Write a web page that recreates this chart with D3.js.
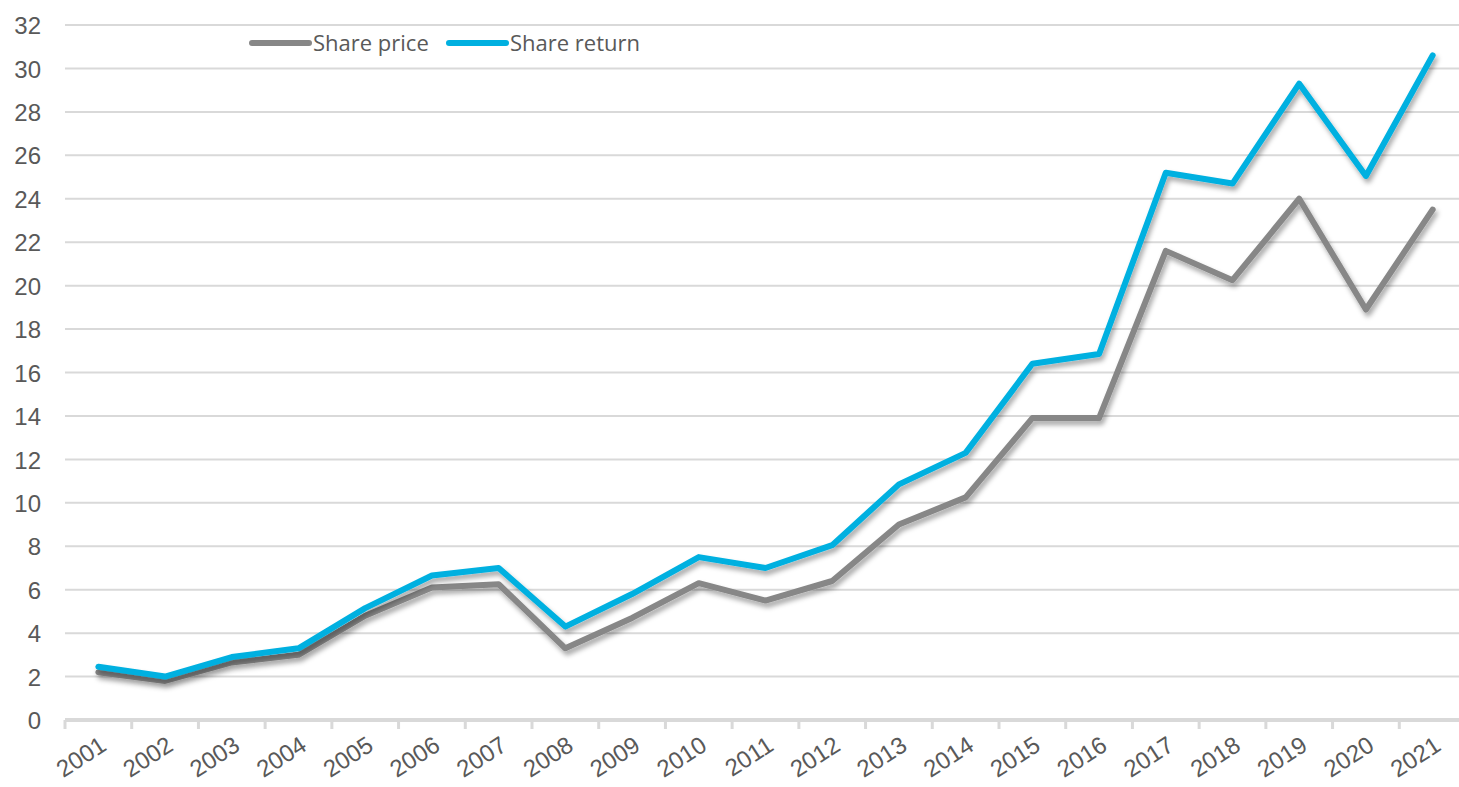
<!DOCTYPE html>
<html><head><meta charset="utf-8">
<script src="https://cdn.jsdelivr.net/npm/d3@7"></script>
<style>body{margin:0;background:#fff;}svg{display:block;}</style>
</head><body>
<svg id="c" width="1459" height="787"></svg>
<script>
const years = ["2001","2002","2003","2004","2005","2006","2007","2008","2009","2010","2011","2012","2013","2014","2015","2016","2017","2018","2019","2020","2021"];
const sharePrice = [2.2,1.8,2.65,3.0,4.8,6.1,6.25,3.3,4.7,6.3,5.5,6.4,9.0,10.25,13.9,13.9,21.6,20.25,24.0,18.9,23.5];
const shareReturn = [2.45,2.0,2.9,3.3,5.15,6.65,7.0,4.3,5.8,7.5,7.0,8.05,10.85,12.3,16.4,16.85,25.2,24.7,29.3,25.05,30.6];
const yTicks = [0,2,4,6,8,10,12,14,16,18,20,22,24,26,28,30,32];
const seriesNames = ["Share price","Share return"];
const seriesColors = ["#878787","#00b0e0"];

const svg = d3.select("#c");
const mLeft = 65, mRight = 1466, mTop = 25, mBottom = 720;
const x = d3.scaleBand().domain(years).range([mLeft, mRight]).padding(0);
const y = d3.scaleLinear().domain([0,32]).range([mBottom, mTop]);

const defs = svg.append("defs");
const f = defs.append("filter").attr("id","sh").attr("x","-10%").attr("y","-10%").attr("width","120%").attr("height","130%");
f.append("feDropShadow").attr("dx",2).attr("dy",4).attr("stdDeviation",2.5).attr("flood-color","#000").attr("flood-opacity",0.35);

// gridlines
svg.append("g").selectAll("line").data(yTicks.filter(d=>d>0)).join("line")
  .attr("x1",mLeft).attr("x2",mRight).attr("y1",d=>y(d)).attr("y2",d=>y(d))
  .attr("stroke","#d9d9d9").attr("stroke-width",2);

// y axis labels
const yAxis = d3.axisLeft(y).tickValues(yTicks).tickSize(0).tickPadding(0);
const ya = svg.append("g").attr("transform",`translate(41,0)`).call(yAxis);
ya.select(".domain").remove();
ya.selectAll("text").attr("font-family","'Liberation Sans', sans-serif").attr("font-size",24).attr("fill","#595959").attr("dy","0.36em");

// x axis
const xa = svg.append("g").attr("transform",`translate(0,${mBottom})`);
xa.append("line").attr("x1",mLeft).attr("x2",mRight).attr("stroke","#d9d9d9").attr("stroke-width",4);
xa.selectAll("line.tk").data(d3.range(years.length+1)).join("line").attr("class","tk")
  .attr("x1",i=>mLeft+i*x.bandwidth()).attr("x2",i=>mLeft+i*x.bandwidth()).attr("y1",0).attr("y2",9)
  .attr("stroke","#d9d9d9").attr("stroke-width",3);
xa.selectAll("text").data(years).join("text")
  .attr("transform",d=>`translate(${x(d)+x.bandwidth()/2+5},${22}) rotate(-33)`)
  .attr("text-anchor","end").attr("dy","0.36em")
  .attr("font-family","'Liberation Sans', sans-serif").attr("font-size",24).attr("fill","#595959")
  .text(d=>d);

// lines
const line = d3.line().x((d,i)=>x(years[i])+x.bandwidth()/2).y(d=>y(d));
[sharePrice, shareReturn].forEach((s,k)=>{
  svg.append("path").datum(s).attr("d",line).attr("fill","none")
    .attr("stroke",seriesColors[k]).attr("stroke-width",6).attr("stroke-linejoin","round").attr("stroke-linecap","round")
    .attr("filter","url(#sh)");
});

// legend
const lg = svg.append("g");
const lx = [252, 449];
seriesNames.forEach((n,k)=>{
  lg.append("line").attr("x1",lx[k]).attr("x2",lx[k]+57).attr("y1",43).attr("y2",43)
    .attr("stroke",seriesColors[k]).attr("stroke-width",6).attr("stroke-linecap","round");
  lg.append("text").attr("x",lx[k]+61).attr("y",43).attr("dy","0.35em")
    .attr("font-family","'Open Sans', sans-serif").attr("font-size",22).attr("fill","#595959").text(n);
});
</script>
</body></html>
